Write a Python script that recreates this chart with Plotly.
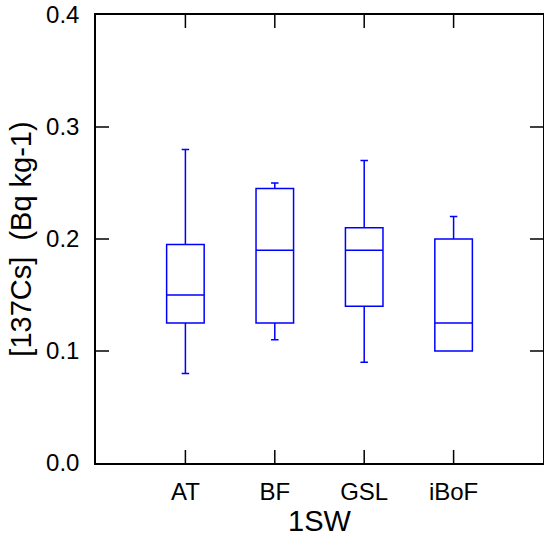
import plotly.graph_objects as go

# 137Cs concentration boxes for 1SW fish, per region
regions = ['AT', 'BF', 'GSL', 'iBoF']
lower = [0.08, 0.11, 0.09, 0.10]
q1 = [0.125, 0.125, 0.14, 0.10]
median = [0.15, 0.19, 0.19, 0.125]
q3 = [0.195, 0.245, 0.21, 0.20]
upper = [0.28, 0.25, 0.27, 0.22]
y_ticks = [0.1, 0.2, 0.3]
TICK_LEN = 13

fig = go.Figure()
fig.add_trace(go.Box(
    x=regions, q1=q1, median=median, q3=q3,
    lowerfence=lower, upperfence=upper,
    line=dict(color='#0000ff', width=1.5),
    fillcolor='rgba(0,0,0,0)',
    width=0.42, whiskerwidth=0.2,
    boxpoints=False, showlegend=False,
))

# inward tick marks on all four sides, drawn as pixel-sized shapes
tick_line = dict(color='black', width=1.5)
for i, _ in enumerate(regions):
    fig.add_shape(type='line', xref='x', yref='paper', x0=i, x1=i,
                  ysizemode='pixel', yanchor=0, y0=0, y1=TICK_LEN, line=tick_line)
    fig.add_shape(type='line', xref='x', yref='paper', x0=i, x1=i,
                  ysizemode='pixel', yanchor=1, y0=-TICK_LEN, y1=0, line=tick_line)
for v in y_ticks:
    fig.add_shape(type='line', xref='paper', yref='y', y0=v, y1=v,
                  xsizemode='pixel', xanchor=0, x0=0, x1=TICK_LEN, line=tick_line)
    fig.add_shape(type='line', xref='paper', yref='y', y0=v, y1=v,
                  xsizemode='pixel', xanchor=1, x0=-TICK_LEN, x1=0, line=tick_line)

font = dict(family='Liberation Sans, Arial, sans-serif', size=24, color='black')
axis_style = dict(showline=True, linecolor='black', linewidth=1.5, mirror=True,
                  ticks='', showgrid=False, zeroline=False, automargin=False)

fig.update_layout(
    width=544, height=539,
    margin=dict(l=96, r=1, t=15, b=76, autoexpand=False),
    plot_bgcolor='white', paper_bgcolor='white',
    font=font,
    xaxis=dict(type='category', range=[-1, 4], ticklabelstandoff=6,
               title=dict(text='1SW', standoff=0), **axis_style),
    yaxis=dict(range=[0, 0.4], dtick=0.1, tickformat='.1f', ticklabelstandoff=10,
               title=dict(text='[137Cs]\u00a0\u00a0(Bq kg-1)', standoff=6), **axis_style),
)

fig.write_html('out.html', config={'displayModeBar': False},
               post_script="document.body.style.margin='0';")
